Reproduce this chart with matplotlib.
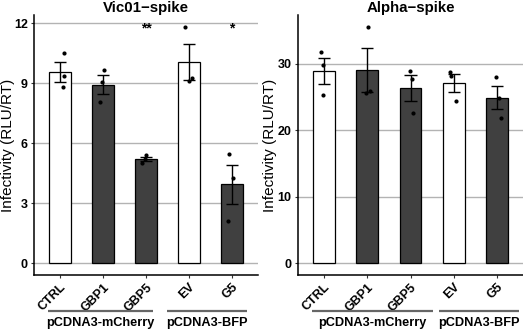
import matplotlib
matplotlib.use("Agg")
import matplotlib.pyplot as plt
import matplotlib.transforms as mtransforms
import numpy as np

plt.rcParams['font.family'] = ['Liberation Sans', 'DejaVu Sans']

categories = ["CTRL", "GBP1", "GBP5", "EV", "G5"]
fills = ["white", "#404040", "#404040", "white", "#404040"]

vic01_points = [
    [10.53, 9.36, 8.83],
    [9.66, 9.07, 8.08],
    [5.42, 5.22, 5.03],
    [11.83, 9.25, 9.13],
    [5.45, 4.25, 2.12],
]
alpha_points = [
    [31.85, 29.85, 25.30],
    [35.60, 26.00, 25.70],
    [28.95, 27.70, 22.55],
    [28.75, 28.20, 24.50],
    [28.00, 24.95, 21.85],
]
vic01_jitter = [[0.09, 0.10, 0.08], [0.02, -0.03, -0.07], [0.0, -0.02, -0.09],
                [-0.09, 0.06, 0.0], [-0.07, 0.03, -0.10]]
alpha_jitter = [[-0.08, -0.02, -0.03], [0.01, 0.06, -0.02], [-0.02, 0.04, 0.06],
                [-0.08, -0.06, 0.05], [-0.02, 0.04, 0.09]]

vic01_sig = {"GBP5": "**", "G5": "*"}
alpha_sig = {}

groups = ["pCDNA3-mCherry", "pCDNA3-BFP"]

panels = [
    dict(title="Vic01\u2212spike", pts=vic01_points, jit=vic01_jitter, sig=vic01_sig,
         ticks=[0, 3, 6, 9, 12], sig_y=12,
         rect=[34/523, 55/330, 224/523, 260/330], ylab_x=-0.085,
         brackets=[(0.72, 3.16), (3.48, 5.34)]),
    dict(title="Alpha\u2212spike", pts=alpha_points, jit=alpha_jitter, sig=alpha_sig,
         ticks=[0, 10, 20, 30], sig_y=None,
         rect=[298/523, 55/330, 225/523, 260/330], ylab_x=-0.093,
         brackets=[(0.73, 3.51), (3.67, 5.5)]),
]

fig = plt.figure(figsize=(5.23, 3.30), dpi=100)
shift = mtransforms.ScaledTranslation(0.10, 0.0, fig.dpi_scale_trans)

for p in panels:
    ax = fig.add_axes(p["rect"])
    x = np.arange(1, len(categories) + 1)
    pts = np.array(p["pts"])
    means = pts.mean(axis=1)
    se = pts.std(axis=1, ddof=1) / np.sqrt(pts.shape[1])
    ymax = pts.max()
    ax.set_ylim(-0.05 * ymax, ymax * 1.05)
    ax.set_xlim(0.4, len(categories) + 0.6)
    ax.set_yticks(p["ticks"])
    for t in p["ticks"]:
        ax.axhline(t, color="#b3b3b3", lw=1.0, zorder=0)
    ax.bar(x, means, width=0.5, color=fills, edgecolor="black", linewidth=0.9, zorder=2)
    ax.vlines(x, means - se, means + se, color="black", lw=1.0, zorder=3)
    ax.hlines(means + se, x - 0.14, x + 0.14, color="black", lw=1.0, zorder=3)
    ax.hlines(means - se, x - 0.14, x + 0.14, color="black", lw=1.0, zorder=3)
    jit = np.array(p["jit"])
    for i in range(len(categories)):
        ax.scatter(x[i] + jit[i], pts[i], s=9, color="black", zorder=4, linewidths=0)
    for i, c in enumerate(categories):
        if c in p["sig"]:
            ax.text(x[i], p["sig_y"] - 0.25, p["sig"][c], ha="center", va="center",
                    fontsize=10, fontweight="bold")
    ax.set_xticks(x)
    ax.set_xticklabels(categories, rotation=45, ha="right", va="top",
                       rotation_mode="anchor", fontweight="bold", fontsize=9)
    for lab in ax.get_xticklabels():
        lab.set_transform(lab.get_transform() + shift)
    for lab in ax.get_yticklabels():
        lab.set_fontweight("bold")
        lab.set_fontsize(9)
    ax.tick_params(axis="both", length=2.5, width=0.8, color="#333333", pad=2)
    for s in ["top", "right"]:
        ax.spines[s].set_visible(False)
    for s in ["left", "bottom"]:
        ax.spines[s].set_linewidth(1.1)
    ax.set_title(p["title"], fontsize=10.8, fontweight="bold", pad=1.5)
    ax.set_ylabel("Infectivity (RLU/RT)", fontsize=11)
    ax.yaxis.set_label_coords(p["ylab_x"], 0.5)
    trans = ax.get_xaxis_transform()
    for (a, b), g in zip(p["brackets"], groups):
        ax.plot([a, b], [-0.138, -0.138], transform=trans, color="#666666", lw=1.6,
                clip_on=False, solid_capstyle="butt")
        ax.text((a + b) / 2, -0.183, g, transform=trans, ha="center", va="center",
                fontsize=9.2, fontweight="bold")

fig.savefig("out.png", dpi=100)
